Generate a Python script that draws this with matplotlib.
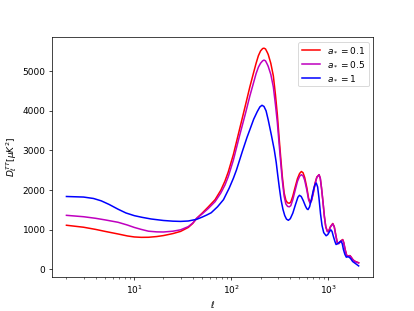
import matplotlib
matplotlib.use("Agg")
import matplotlib.pyplot as plt

# values (red and magenta share one ell grid)
ell_rm = [2, 3, 4, 5, 6.8, 8.5, 10, 11.8, 14, 17, 20, 25, 30, 36, 40, 44, 50, 58,
          68, 78, 86, 93, 105, 120, 140, 155, 169, 180, 190, 200, 210, 217, 225,
          235, 240, 255, 271, 285, 298, 310, 322, 335, 350, 365, 380, 396, 410, 430,
          455, 480, 505, 527, 548, 570, 600, 625, 647, 670, 700, 730, 760, 801, 825,
          850, 880, 910, 940, 977, 1010, 1050, 1110, 1150, 1190, 1237, 1280, 1340,
          1405, 1440, 1490, 1540, 1570, 1620, 1670, 1720, 1800, 1900, 2050]
d_red = [1115, 1065, 1010, 960, 895, 845, 820, 810, 812, 830, 855, 905, 960, 1060,
         1160, 1290, 1420, 1580, 1760, 2000, 2230, 2460, 2900, 3480, 4150, 4600, 4950,
         5200, 5390, 5510, 5570, 5580, 5560, 5470, 5420, 5200, 4880, 4400, 3900, 3350,
         2850, 2350, 1930, 1740, 1680, 1670, 1700, 1850, 2080, 2290, 2420, 2470, 2440,
         2320, 2060, 1800, 1690, 1750, 1950, 2180, 2330, 2390, 2300, 2050, 1700, 1330,
         1080, 960, 980, 1080, 1160, 1080, 880, 670, 660, 720, 755, 680, 500, 370, 335,
         345, 350, 310, 240, 200, 170]
d_mag = [1365, 1330, 1290, 1250, 1190, 1120, 1060, 1010, 965, 948, 945, 965, 1000,
         1080, 1170, 1290, 1400, 1540, 1710, 1930, 2130, 2340, 2760, 3320, 3940, 4370,
         4700, 4940, 5100, 5200, 5260, 5280, 5260, 5170, 5120, 4920, 4600, 4150, 3700,
         3200, 2720, 2250, 1850, 1650, 1590, 1580, 1610, 1760, 2000, 2220, 2350, 2390,
         2360, 2250, 2000, 1760, 1670, 1730, 1930, 2160, 2320, 2390, 2300, 2050, 1700,
         1330, 1070, 950, 970, 1070, 1150, 1070, 870, 660, 650, 710, 745, 670, 490, 360,
         330, 340, 345, 300, 235, 195, 165]

ell_blue = [2, 3, 3.8, 4.57, 5.5, 6.8, 8.2, 10, 12, 14.9, 20, 25, 30, 36, 44, 50, 56,
            62, 72, 83, 95, 105, 113, 130, 145, 156, 170, 185, 197, 207, 217, 228,
            240, 258, 277, 290, 300, 312, 325, 340, 355, 370, 387, 405, 430, 460, 485,
            503, 525, 550, 580, 600, 617, 640, 670, 700, 725, 750, 775, 800, 830, 860,
            895, 948, 985, 1030, 1060, 1090, 1130, 1170, 1200, 1250, 1300, 1350, 1390,
            1430, 1480, 1530, 1580, 1640, 1700, 1780, 1900, 2050]
d_blue = [1840, 1826, 1790, 1730, 1640, 1520, 1425, 1357, 1315, 1273, 1235, 1218,
          1212, 1222, 1265, 1320, 1375, 1430, 1580, 1760, 2050, 2300, 2510, 2980, 3330,
          3540, 3790, 3980, 4100, 4140, 4110, 4000, 3770, 3400, 3015, 2700, 2400, 2070,
          1760, 1520, 1360, 1270, 1240, 1280, 1420, 1650, 1820, 1870, 1840, 1740, 1600,
          1530, 1510, 1580, 1780, 2000, 2130, 2180, 2080, 1800, 1400, 1110, 930, 850,
          880, 960, 1000, 960, 820, 700, 630, 650, 690, 710, 650, 500, 380, 310, 320,
          310, 270, 200, 150, 90]

labels = [r"$a_* = 0.1$", r"$a_* = 0.5$", r"$a_* = 1$"]


def main():
    fig, ax = plt.subplots(figsize=(6.4, 4.8), dpi=64.8)
    ax.plot(ell_rm, d_red, color="r", lw=1.7, label=labels[0])
    ax.plot(ell_rm, d_mag, color="m", lw=1.7, label=labels[1])
    ax.plot(ell_blue, d_blue, color="b", lw=1.7, label=labels[2])
    ax.set_xscale("log")
    ax.set_xlabel(r"$\ell$")
    ax.set_ylabel(r"$D_\ell^{TT} [\mu K^2]$")
    ax.legend(loc="upper right")
    fig.savefig("out.png", dpi=64.8)


if __name__ == "__main__":
    main()
